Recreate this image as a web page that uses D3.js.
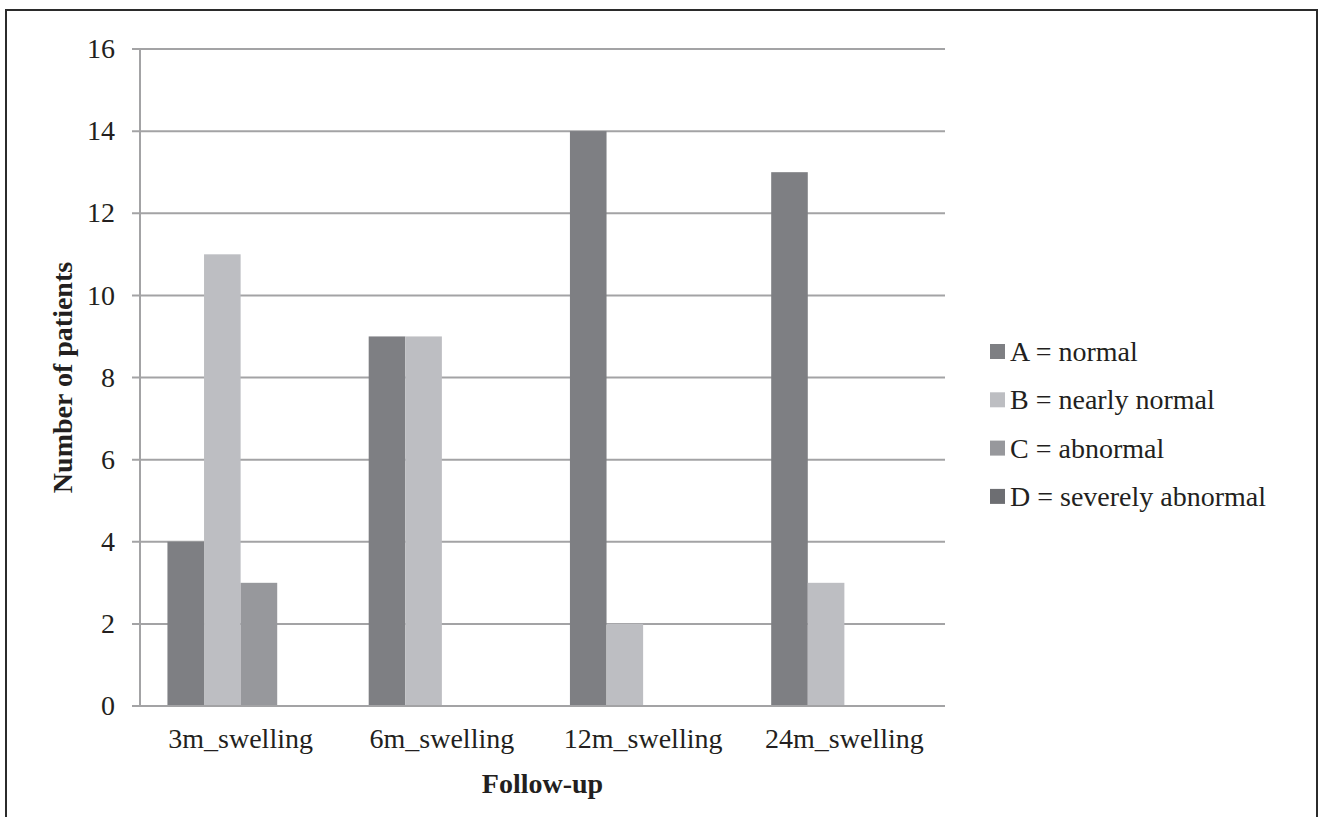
<!DOCTYPE html>
<html>
<head>
<meta charset="utf-8">
<script src="https://cdn.jsdelivr.net/npm/d3@7"></script>
<style>
  html, body { margin: 0; padding: 0; background: #fff; }
  svg { display: block; }
  svg text { font-family: "Liberation Serif", "Times New Roman", Times, serif; }
</style>
</head>
<body>
<svg id="chart" width="1320" height="817"></svg>
<script>
const categories = ["3m_swelling", "6m_swelling", "12m_swelling", "24m_swelling"];
const seriesNames = ["A = normal", "B = nearly normal", "C = abnormal", "D = severely abnormal"];
const seriesA = [4, 9, 14, 13];
const seriesB = [11, 9, 2, 3];
const seriesC = [3, 0, 0, 0];
const seriesD = [0, 0, 0, 0];
const yTicks = [0, 2, 4, 6, 8, 10, 12, 14, 16];
const colors = ["#7e7f83", "#bdbec2", "#97989c", "#6d6e72"];

const TXT = "#231f20";
const FS = 28;
const allSeries = [seriesA, seriesB, seriesC, seriesD];
const svg = d3.select("#chart");

// outer frame
svg.append("rect")
  .attr("x", 6).attr("y", 10).attr("width", 1311).attr("height", 830)
  .attr("fill", "none").attr("stroke", "#2b2b2b").attr("stroke-width", 2);

const mLeft = 140, mRight = 945, mTop = 49, mBottom = 706;

const x0 = d3.scaleBand().domain(categories).range([mLeft, mRight]).paddingInner(0).paddingOuter(0);
const x1 = d3.scaleBand().domain(d3.range(4)).range([0, x0.bandwidth()])
  .paddingInner(0).paddingOuter(0.75);
const y = d3.scaleLinear().domain([0, 16]).range([mBottom, mTop]);

// gridlines + ticks
const g = svg.append("g");
g.selectAll("line.grid").data(yTicks).enter().append("line")
  .attr("x1", mLeft - 8).attr("x2", mRight)
  .attr("y1", d => y(d)).attr("y2", d => y(d))
  .attr("stroke", "#a3a3a5").attr("stroke-width", 2);
g.append("line").attr("x1", mLeft).attr("x2", mLeft).attr("y1", mTop).attr("y2", mBottom)
  .attr("stroke", "#a3a3a5").attr("stroke-width", 2);

// y tick labels
svg.selectAll("text.ytick").data(yTicks).enter().append("text")
  .attr("x", mLeft - 25).attr("y", d => y(d)).attr("dy", "0.33em")
  .attr("text-anchor", "end").attr("font-size", FS).attr("fill", TXT).text(d => d);

// bars
const groups = svg.append("g").selectAll("g").data(categories).enter().append("g")
  .attr("transform", c => `translate(${x0(c)},0)`);
groups.each(function(c, ci) {
  const sel = d3.select(this);
  allSeries.forEach((s, si) => {
    const v = s[ci];
    if (v > 0) {
      sel.append("rect")
        .attr("x", x1(si)).attr("width", x1.bandwidth())
        .attr("y", y(v)).attr("height", y(0) - y(v))
        .attr("fill", colors[si]);
    }
  });
});

// baseline over bars
svg.append("line").attr("x1", mLeft - 8).attr("x2", mRight).attr("y1", y(0)).attr("y2", y(0))
  .attr("stroke", "#a3a3a5").attr("stroke-width", 2);

// x labels
svg.selectAll("text.xtick").data(categories).enter().append("text")
  .attr("x", c => x0(c) + x0.bandwidth() / 2).attr("y", 748)
  .attr("text-anchor", "middle").attr("font-size", FS).attr("fill", TXT).text(c => c);

// axis titles
svg.append("text").attr("x", (mLeft + mRight) / 2).attr("y", 793)
  .attr("text-anchor", "middle").attr("font-size", FS).attr("font-weight", "bold")
  .attr("fill", TXT).text("Follow-up");
svg.append("text").attr("transform", `translate(72,${(mTop + mBottom) / 2}) rotate(-90)`)
  .attr("text-anchor", "middle").attr("font-size", FS).attr("font-weight", "bold")
  .attr("fill", TXT).text("Number of patients");

// legend
const leg = svg.append("g").selectAll("g").data(seriesNames).enter().append("g")
  .attr("transform", (d, i) => `translate(990,${352 + i * 48.3})`);
leg.append("rect").attr("x", 0).attr("y", -8).attr("width", 15).attr("height", 15)
  .attr("fill", (d, i) => colors[i]);
leg.append("text").attr("x", 20).attr("y", 9)
  .attr("font-size", FS).attr("fill", TXT).text(d => d);
</script>
</body>
</html>
